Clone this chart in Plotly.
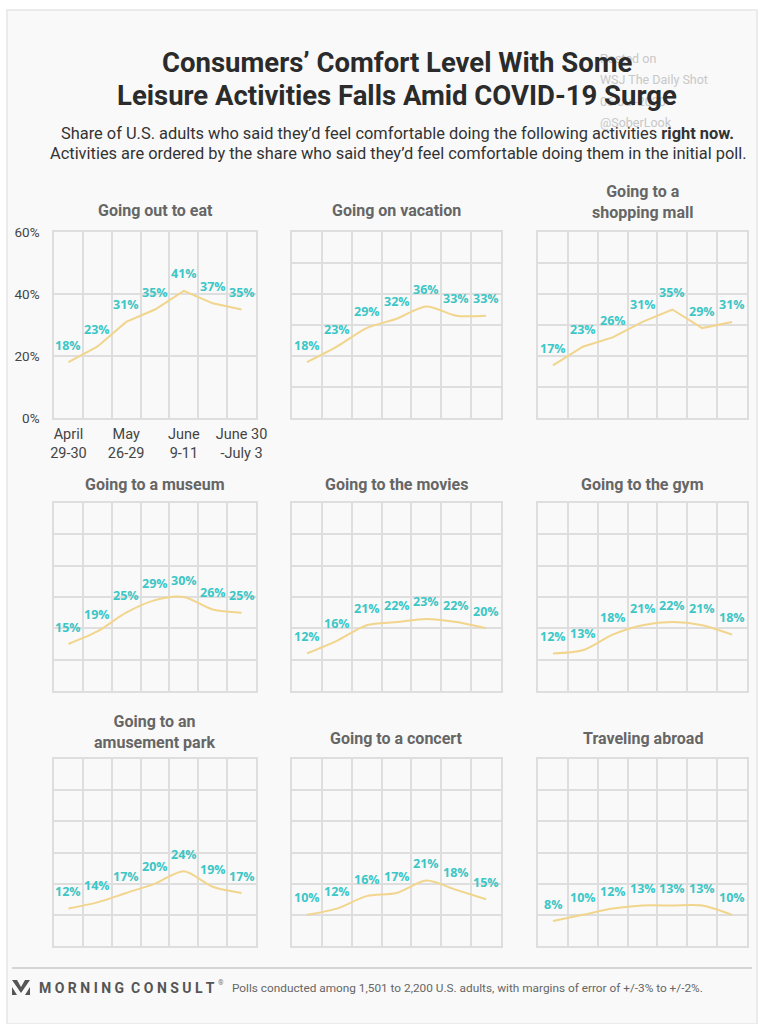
import plotly.graph_objects as go

W, H = 762, 1024

# ---------------- data ----------------
activities = [
    "Going out to eat", "Going on vacation", "Going to a<br>shopping mall",
    "Going to a museum", "Going to the movies", "Going to the gym",
    "Going to an<br>amusement park", "Going to a concert", "Traveling abroad",
]
eat = [18, 23, 31, 35, 41, 37, 35]
vacation = [18, 23, 29, 32, 36, 33, 33]
mall = [17, 23, 26, 31, 35, 29, 31]
museum = [15, 19, 25, 29, 30, 26, 25]
movies = [12, 16, 21, 22, 23, 22, 20]
gym = [12, 13, 18, 21, 22, 21, 18]
amusement = [12, 14, 17, 20, 24, 19, 17]
concert = [10, 12, 16, 17, 21, 18, 15]
abroad = [8, 10, 12, 13, 13, 13, 10]
series = [eat, vacation, mall, museum, movies, gym, amusement, concert, abroad]
line_shape = ["linear", "spline", "linear", "spline", "spline", "spline", "spline", "spline", "spline"]

poll_index = [0, 1, 2, 3, 4, 5, 6]
date_tick_pos = [0, 2, 4, 6]
date_tick_labels = ["April<br>29-30", "May<br>26-29", "June<br>9-11", "June 30<br>-July 3"]
y_tick_vals = [0, 20, 40, 60]
y_tick_labels = ["0%", "20%", "40%", "60%"]

# ---------------- styles ----------------
BG = "#f9f9f9"
GRID = "#dedede"
LINE = "#f2d58c"
TEAL = "#3cc6c6"
TITLE_GRAY = "#666666"

col_px = [(54, 256), (292, 501), (538, 747)]
row_px = [(232, 418), (503, 691), (759, 946)]
title_y_px = [210, 210, 201.5, 484, 484, 484, 732, 738, 738]


def px(x):
    return x / W


def py(y):
    return 1 - y / H


fig = go.Figure()
layout = dict(
    width=W, height=H, margin=dict(l=0, r=0, t=0, b=0, pad=0, autoexpand=False),
    paper_bgcolor="white", plot_bgcolor=BG, showlegend=False,
    font=dict(family="Roboto", color="#444"),
)
annotations = []
shapes = []


def note(x, y, text, size, color, family="Roboto", xanchor="center", yanchor="middle"):
    annotations.append(dict(x=px(x), y=py(y), xref="paper", yref="paper", text=text, showarrow=False,
                            xanchor=xanchor, yanchor=yanchor,
                            font=dict(family=family, size=size, color=color)))


# card background
shapes.append(dict(type="rect", xref="paper", yref="paper", x0=px(7), x1=px(757), y0=py(1024), y1=py(10),
                   fillcolor=BG, line=dict(color="#e6e6e6", width=1.5), layer="below"))

for k, vals in enumerate(series):
    r, c = divmod(k, 3)
    n = "" if k == 0 else str(k + 1)
    xa, ya = "xaxis" + n, "yaxis" + n
    x0, x1 = col_px[c]
    y0, y1 = row_px[r]
    first = k == 0
    layout[xa] = dict(
        domain=[px(x0), px(x1)], range=[-0.5, 6.5], anchor="y" + n, automargin=False,
        tickmode="array", tickvals=date_tick_pos, ticktext=date_tick_labels,
        showticklabels=first, showgrid=False, zeroline=False, ticks="",
        tickfont=dict(size=14.5, color="#444"), ticklabelstandoff=2,
        showline=True, mirror=True, linecolor=GRID, linewidth=1.5,
        minor=dict(tick0=-0.5, dtick=1, showgrid=True, gridcolor=GRID, gridwidth=1.5, ticks=""),
        fixedrange=True,
    )
    ya_d = dict(
        domain=[py(y1), py(y0)], range=[0, 60], anchor="x" + n, automargin=False,
        showgrid=True, gridcolor=GRID, gridwidth=1.5, zeroline=False, ticks="",
        showline=True, mirror=True, linecolor=GRID, linewidth=1.5, fixedrange=True,
    )
    if first:
        ya_d.update(tickmode="array", tickvals=y_tick_vals, ticktext=y_tick_labels,
                    showticklabels=True, tickfont=dict(size=13.5, color="#444"), ticklabelstandoff=10)
    else:
        ya_d.update(dtick=10, showticklabels=False)
    layout[ya] = ya_d

    fig.add_trace(go.Scatter(
        x=poll_index, y=vals, mode="lines", xaxis="x" + n, yaxis="y" + n,
        line=dict(color=LINE, width=2, shape=line_shape[k], smoothing=0.8),
        hoverinfo="skip",
    ))
    for i, v in zip(poll_index, vals):
        annotations.append(dict(
            x=i, y=v, xref="x" + n, yref="y" + n, text=f"<b>{v}%</b>", showarrow=False,
            xanchor="center", yanchor="middle",
            yshift=17, font=dict(family="Open Sans", size=12.5, color=TEAL),
        ))
    # panel title
    note((x0 + x1) / 2, title_y_px[k], f"<b>{activities[k]}</b>", 16, TITLE_GRAY)

# watermark (faint)
for txt, yy in [("Posted on", 58), ("WSJ The Daily Shot", 79), ("06-Jul-2020", 101), ("@SoberLook", 122)]:
    note(598, yy, txt, 12.5, "#c8c8c8", xanchor="left")

# title
note(397, 62, "<b>Consumers’ Comfort Level With Some</b>", 27.5, "#2b2b2b")
note(397, 95, "<b>Leisure Activities Falls Amid COVID-19 Surge</b>", 27.5, "#2b2b2b")
note(397, 133, "Share of U.S. adults who said they’d feel comfortable doing the following activities <b>right now.</b>",
     16.4, "#333")
note(398, 153, "Activities are ordered by the share who said they’d feel comfortable doing them in the initial poll.",
     16.4, "#333")

# footer
shapes.append(dict(type="line", xref="paper", yref="paper", x0=px(12), x1=px(752), y0=py(968), y1=py(968),
                   line=dict(color="#c8c8c8", width=1.5)))


def path(points):
    return "M " + " L ".join(f"{px(a):.5f},{py(b):.5f}" for a, b in points) + " Z"


shapes.append(dict(type="path", xref="paper", yref="paper", line=dict(width=0), fillcolor="#555",
                   path=path([(12, 980), (17, 980), (21, 987), (25, 980), (30, 980), (21, 993)])))
shapes.append(dict(type="path", xref="paper", yref="paper", line=dict(width=0), fillcolor="#555",
                   path=path([(12, 987), (17, 995), (12, 995)])))
shapes.append(dict(type="path", xref="paper", yref="paper", line=dict(width=0), fillcolor="#555",
                   path=path([(30, 987), (30, 995), (25, 995)])))
note(37, 988, "<b>M O R N I N G  C O N S U L T</b>", 14, "#555", xanchor="left")
note(216, 983, "®", 7, "#777", xanchor="left")
note(230, 988, "Polls conducted among 1,501 to 2,200 U.S. adults, with margins of error of +/-3% to +/-2%.",
     11.8, "#666", xanchor="left")

layout["annotations"] = annotations
layout["shapes"] = shapes
fig.update_layout(**layout)
fig.write_html("out.html", config={"displayModeBar": False},
               post_script="document.body.style.margin='0';document.body.style.overflow='hidden';"
                           "document.documentElement.style.overflow='hidden';")
